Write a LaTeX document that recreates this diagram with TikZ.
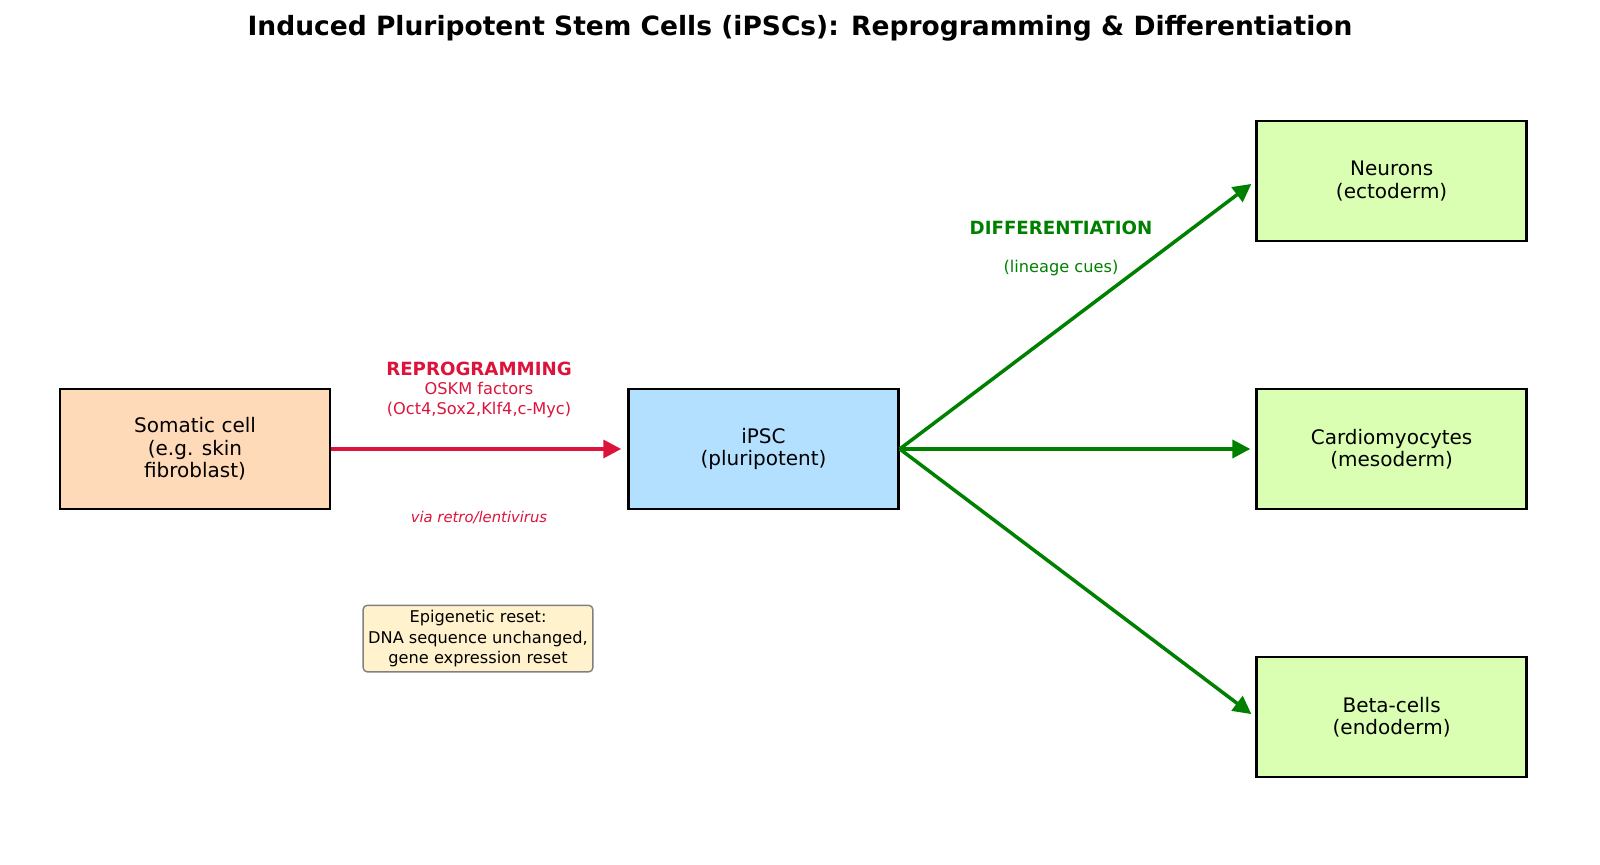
\documentclass[tikz,border=0pt]{standalone}
\usepackage{fontspec}
\setmainfont{DejaVu Sans}
\usepackage{tikz}
\usetikzlibrary{arrows.meta,positioning}
\definecolor{peach}{RGB}{255,218,185}
\definecolor{skyblue}{RGB}{179,224,255}
\definecolor{lime}{RGB}{218,255,179}
\definecolor{crimson}{RGB}{220,20,60}
\definecolor{leaf}{RGB}{0,128,0}
\definecolor{cream}{RGB}{255,242,204}
\definecolor{frame}{RGB}{128,128,128}
\tikzset{
  cell/.style={
    rectangle, draw=black, line width=1.25pt, align=center,
    minimum width=135pt, minimum height=60pt, inner sep=0pt,
    font=\fontsize{10}{11.2}\selectfont
  },
  note/.style={
    rectangle, draw=frame, fill=cream, rounded corners=2pt, align=center,
    line width=0.7pt, inner sep=2.5pt,
    font=\fontsize{8.1}{10.2}\selectfont
  },
  lbl/.style={align=center, inner sep=0pt},
  reprog/.style={-{Triangle[length=9pt,width=9pt]}, line width=1.75pt, draw=crimson},
  diff/.style={-{Triangle[length=9pt,width=9pt]}, line width=1.75pt, draw=leaf}
}

\begin{document}
\begin{tikzpicture}[x=0.5pt, y=-0.5pt, node distance=72.8pt and 177.8pt]
\useasboundingbox (0,0) rectangle (1600,865);
\node[font=\bfseries\fontsize{13.25}{16}\selectfont] (title) at (800,28.5) {Induced Pluripotent Stem Cells (iPSCs): Reprogramming \& Differentiation};
\node[cell, fill=peach] (somatic) at (195,449) {Somatic cell\\(e.g. skin\\fibroblast)};
\node[cell, fill=skyblue, right=148pt of somatic] (ipsc) {iPSC\\(pluripotent)};
\node[cell, fill=lime, right=of ipsc] (cardio) {Cardiomyocytes\\(mesoderm)};
\node[cell, fill=lime, above=of cardio] (neuron) {Neurons\\(ectoderm)};
\node[cell, fill=lime, below=of cardio] (beta) {Beta-cells\\(endoderm)};
\node[lbl, text=crimson, font=\bfseries\fontsize{9.1}{11}\selectfont] (reprolbl) at (479,368.4) {REPROGRAMMING};
\node[lbl, text=crimson, font=\fontsize{8.1}{10.1}\selectfont] (oskm) at (479,400) {OSKM factors\\(Oct4,Sox2,Klf4,c-Myc)};
\node[lbl, text=crimson, font=\itshape\fontsize{7.4}{9}\selectfont] (vector) at (479,517.4) {via retro/lentivirus};
\node[note] (epi) at (478,638.6) {Epigenetic reset:\\DNA sequence unchanged,\\gene expression reset};
\node[lbl, text=leaf, font=\bfseries\fontsize{9.1}{11}\selectfont] (difflbl) at (1061,227.6) {DIFFERENTIATION};
\node[lbl, text=leaf, font=\fontsize{8.1}{10}\selectfont] (cues) at (1061,268.4) {(lineage cues)};
\draw[reprog, shorten >=3pt] (somatic) -- (ipsc);
\draw[diff, shorten >=2.5pt] (ipsc.east) -- (neuron.west);
\draw[diff, shorten >=2.5pt] (ipsc.east) -- (cardio.west);
\draw[diff, shorten >=2.5pt] (ipsc.east) -- (beta.west);
\end{tikzpicture}
\end{document}
